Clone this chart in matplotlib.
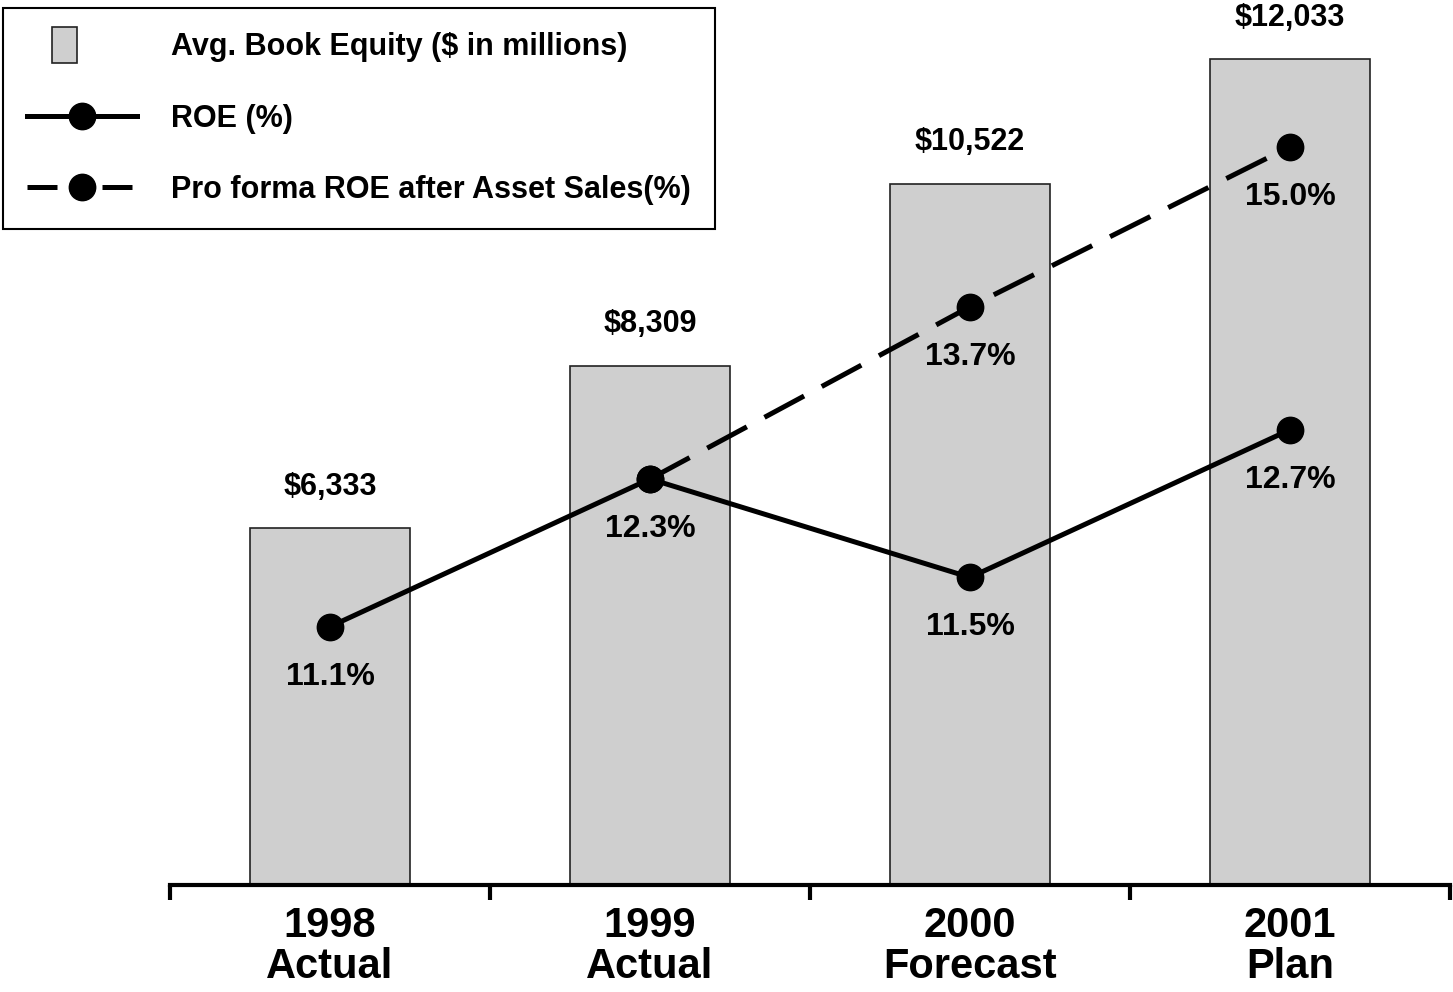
import numpy as np
import matplotlib
matplotlib.use('Agg')
import matplotlib.pyplot as plt
from matplotlib.patches import Rectangle
from matplotlib.lines import Line2D
from matplotlib.legend_handler import HandlerPatch

plt.rcParams['font.family'] = ['Liberation Sans Narrow', 'Liberation Sans', 'DejaVu Sans']
plt.rcParams['font.weight'] = 'bold'

# data
categories = ['1998\nActual', '1999\nActual', '2000\nForecast', '2001\nPlan']
book_equity = [6333, 8309, 10522, 12033]          # $ in millions
roe = [11.1, 12.3, 11.5, 12.7]                    # %
pro_forma_roe = [np.nan, 12.3, 13.7, 15.0]        # % after asset sales

x = np.arange(len(categories))

fig = plt.figure(figsize=(14.53, 9.92), dpi=100)
ax = fig.add_axes([170/1453, 1 - 885/992, 1280/1453, 865/992])
ax.set_xlim(-0.5, 3.5)
ax.set_ylim(2000, 12510)

bars = ax.bar(x, book_equity, width=0.5, bottom=0, color='#cfcfcf',
              edgecolor='#222222', linewidth=1.2,
              label='Avg. Book Equity ($ in millions)')
for i, v in enumerate(book_equity):
    ax.annotate(f'${v:,}', (x[i], v), xytext=(0, 30), textcoords='offset points',
                ha='center', va='center', fontsize=22, fontweight='bold')

# ROE lines on a second scale
ax2 = ax.twinx()
ax2.set_ylim(9.0, 16.03)
for s in ax2.spines.values():
    s.set_visible(False)
ax2.tick_params(axis='y', which='both', left=False, right=False,
                labelleft=False, labelright=False)

# axis styling: only the bottom line with ticks between categories
for s in ('top', 'left', 'right'):
    ax.spines[s].set_visible(False)
ax.spines['bottom'].set_linewidth(3)
ax.set_xticks(np.arange(-0.5, 4, 1))
ax.set_xticklabels([])
ax.tick_params(axis='x', which='major', direction='out', length=11, width=3)
ax.set_xticks(x, minor=True)
ax.set_xticklabels(categories, minor=True, fontsize=30, fontweight='bold',
                   linespacing=1.05)
ax.tick_params(axis='x', which='minor', length=0, pad=15)
ax.tick_params(axis='y', which='both', left=False, right=False,
               labelleft=False, labelright=False)

l_pro, = ax2.plot(x, pro_forma_roe, color='black', lw=3.6, marker='o', ms=19,
                  dashes=(9, 4))
l_roe, = ax2.plot(x, roe, color='black', lw=3.6, marker='o', ms=19)

for i, v in enumerate(roe):
    ax2.annotate(f'{v:.1f}%', (x[i], v), xytext=(0, -36), textcoords='offset points',
                 ha='center', va='center', fontsize=23, fontweight='bold')
for i, v in enumerate(pro_forma_roe):
    if np.isnan(v) or v == roe[i]:
        continue
    ax2.annotate(f'{v:.1f}%', (x[i], v), xytext=(0, -36), textcoords='offset points',
                 ha='center', va='center', fontsize=23, fontweight='bold')


def small_box(legend, orig_handle, xdescent, ydescent, width, height, fontsize):
    return Rectangle((-xdescent + 18, -ydescent + height/2 - 13), 18, 26)


bar_handle = bars.patches[0]
pro_handle = Line2D([], [], color='black', lw=3.6, marker='o', ms=19, dashes=(6, 9))
leg = fig.legend([bar_handle, l_roe, pro_handle],
                 ['Avg. Book Equity ($ in millions)', 'ROE (%)',
                  'Pro forma ROE after Asset Sales(%)'],
                 loc='upper left', bbox_to_anchor=(0.002, 0.992),
                 fontsize=22, handlelength=3.6, handletextpad=1.1,
                 labelspacing=1.35, borderpad=0.8, borderaxespad=0,
                 fancybox=False, framealpha=1, edgecolor='black',
                 handler_map={bar_handle: HandlerPatch(patch_func=small_box)})
leg.get_frame().set_linewidth(1.5)

fig.savefig('out.png', dpi=100)
